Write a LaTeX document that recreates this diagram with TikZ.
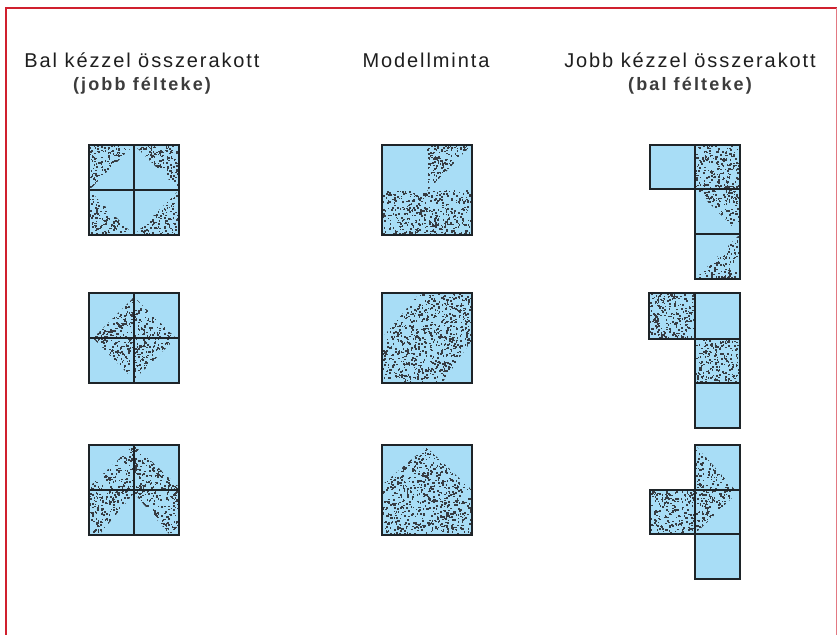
\documentclass[tikz,border=0pt]{standalone}
\usepackage{fontspec}
\setmainfont{Liberation Sans}
\newfontfamily\trk[LetterSpace=9.5]{Liberation Sans}
\newfontfamily\trkb[LetterSpace=12]{Liberation Sans}
\definecolor{tileblue}{RGB}{168,221,246}
\definecolor{framered}{RGB}{208,32,46}
\definecolor{edgec}{RGB}{30,36,40}
\definecolor{dotc}{RGB}{55,60,66}
\definecolor{textc}{RGB}{30,30,30}
\definecolor{textb}{RGB}{60,60,60}
\newcommand\stipple[5]{%
  \begin{scope}
    \clip #1;
    \pgfmathtruncatemacro\ndots{0.11*(#4-#2)*(#5-#3)}%
    \foreach \k in {1,...,\ndots}{%
      \pgfmathsetmacro\px{#2+rnd*(#4-#2)}%
      \pgfmathsetmacro\py{#3+rnd*(#5-#3)}%
      \fill[dotc] (\px,\py) rectangle ++(1.6,1.6);
    }
  \end{scope}}
\begin{document}
\begin{tikzpicture}[x=1pt,y=-1pt,
  tilefill/.style={fill=tileblue},
  edgeline/.style={draw=edgec,line width=1.8pt},
  headtxt/.style={font=\trk\fontsize{20}{22}\selectfont,text=textc,anchor=base,inner sep=0pt},
  subtxt/.style={font=\trkb\bfseries\fontsize{18}{20}\selectfont,text=textb,anchor=base,inner sep=0pt}]
\pgfmathsetseed{7}
\useasboundingbox (0,0) rectangle (837,634);
\fill[white] (0,0) rectangle (837,634);
% frame
\draw[framered,line width=2.5pt] (6,640) -- (6,8) -- (836.5,8);
\draw[framered!60,line width=1.2pt] (836.5,8) -- (836.5,640);
% headings
\node[headtxt] (h1) at (142,67) {Bal kézzel összerakott};
\node[subtxt] (h1b) at (142,90) {(jobb félteke)};
\node[headtxt] (h2) at (426,67) {Modellminta};
\node[headtxt] (h3) at (690,67) {Jobb kézzel összerakott};
\node[subtxt] (h3b) at (690,90) {(bal félteke)};
% ---------- blue fills ----------
\fill[tilefill] (89,145) rectangle (179,235);
\fill[tilefill] (89,293) rectangle (179,383);
\fill[tilefill] (89,445) rectangle (179,535);
\fill[tilefill] (382,145) rectangle (472,235);
\fill[tilefill] (382,293) rectangle (472,383);
\fill[tilefill] (382,445) rectangle (472,535);
\fill[tilefill] (650,145) rectangle (695,189);
\fill[tilefill] (695,145) rectangle (740,279);
\fill[tilefill] (649,293) rectangle (695,339);
\fill[tilefill] (695,293) rectangle (740,428);
\fill[tilefill] (695,445) rectangle (740,490);
\fill[tilefill] (650,490) rectangle (695,534);
\fill[tilefill] (695,490) rectangle (740,579);
% ---------- stipple ----------
% row 1
\stipple{(89,145)--(134,145)--(89,190)--cycle}{89}{145}{134}{190}
\stipple{(134,145)--(179,145)--(179,190)--cycle}{134}{145}{179}{190}
\stipple{(89,190)--(89,235)--(134,235)--cycle}{89}{190}{134}{235}
\stipple{(179,190)--(179,235)--(134,235)--cycle}{134}{190}{179}{235}
\stipple{(382,190) rectangle (472,235)}{382}{190}{472}{235}
\stipple{(427,145)--(472,145)--(427,191)--cycle}{427}{145}{472}{191}
\stipple{(695,145) rectangle (740,189)}{695}{145}{740}{189}
\stipple{(695,189)--(740,189)--(740,234)--cycle}{695}{189}{740}{234}
\stipple{(740,234)--(740,279)--(695,279)--cycle}{695}{234}{740}{279}
% row 2
\stipple{(134,297)--(176,338)--(134,380)--(93,338)--cycle}{93}{297}{176}{380}
\stipple{(420,293)--(472,293)--(472,340)--(442,383)--(382,383)--(382,338)--cycle}{382}{293}{472}{383}
\stipple{(649,293) rectangle (695,339)}{649}{293}{695}{339}
\stipple{(695,339) rectangle (740,383)}{695}{339}{740}{383}
% row 3
\stipple{(134,445)--(179,487)--(179,535)--(170,535)--(134,493)--(99,535)--(89,535)--(89,487)--cycle}{89}{445}{179}{535}
\stipple{(426,447)--(472,490)--(472,535)--(382,535)--(382,485)--cycle}{382}{447}{472}{535}
\stipple{(695,445)--(735,490)--(695,490)--cycle}{695}{445}{735}{490}
\stipple{(650,490) rectangle (695,534)}{650}{490}{695}{534}
\stipple{(695,490)--(740,490)--(695,534)--cycle}{695}{490}{740}{534}
% ---------- outlines ----------
\draw[edgeline] (89,145) rectangle (179,235) (134,145) -- (134,235) (89,190) -- (179,190);
\draw[edgeline] (89,293) rectangle (179,383) (134,293) -- (134,383) (89,338) -- (179,338);
\draw[edgeline] (89,445) rectangle (179,535) (134,445) -- (134,535) (89,490) -- (179,490);
\draw[edgeline] (382,145) rectangle (472,235);
\draw[edgeline] (382,293) rectangle (472,383);
\draw[edgeline] (382,445) rectangle (472,535);
\draw[edgeline] (650,145) rectangle (695,189) (695,145) rectangle (740,279) (695,189) -- (740,189) (695,234) -- (740,234);
\draw[edgeline] (649,293) rectangle (695,339) (695,293) rectangle (740,428) (695,339) -- (740,339) (695,383) -- (740,383);
\draw[edgeline] (695,445) rectangle (740,490) (650,490) rectangle (695,534) (695,490) rectangle (740,579) (695,534) -- (740,534);
\end{tikzpicture}
\end{document}
